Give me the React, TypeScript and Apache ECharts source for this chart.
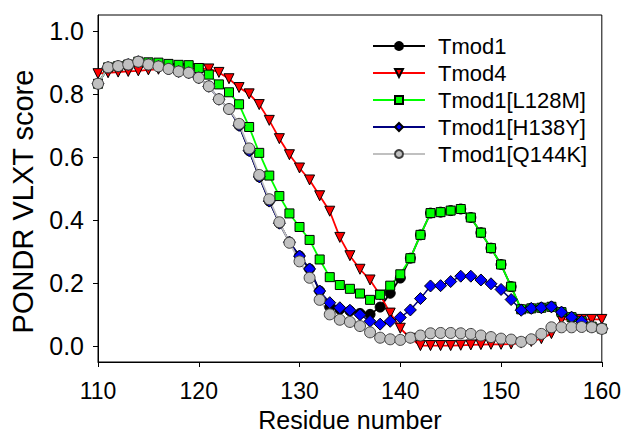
import React, { useEffect, useRef } from "react";
import * as echarts from "echarts";

const residues = [
  110, 111, 112, 113, 114, 115, 116, 117, 118, 119,
  120, 121, 122, 123, 124, 125, 126, 127, 128, 129,
  130, 131, 132, 133, 134, 135, 136, 137, 138, 139,
  140, 141, 142, 143, 144, 145, 146, 147, 148, 149,
  150, 151, 152, 153, 154, 155, 156, 157, 158, 159, 160,
];

const tmod1 = [
  0.832, 0.884, 0.888, 0.893, 0.902, 0.893, 0.887, 0.879, 0.871, 0.867,
  0.851, 0.824, 0.783, 0.752, 0.700, 0.620, 0.537, 0.460, 0.390, 0.330,
  0.286, 0.245, 0.175, 0.124, 0.117, 0.112, 0.104, 0.101, 0.124, 0.168,
  0.216, 0.279, 0.353, 0.422, 0.425, 0.430, 0.435, 0.408, 0.360, 0.311,
  0.259, 0.189, 0.117, 0.120, 0.122, 0.125, 0.108, 0.092, 0.079, 0.062, 0.056,
];

const tmod4 = [
  0.864, 0.867, 0.869, 0.871, 0.873, 0.876, 0.878, 0.879, 0.880, 0.880,
  0.880, 0.879, 0.868, 0.848, 0.820, 0.800, 0.766, 0.716, 0.658, 0.607,
  0.565, 0.527, 0.477, 0.428, 0.345, 0.287, 0.244, 0.210, 0.162, 0.105,
  0.057, 0.025, 0.002, 0.002, 0.002, 0.002, 0.003, 0.004, 0.005, 0.006,
  0.006, 0.007, 0.010, 0.015, 0.024, 0.040, 0.085, 0.085, 0.085, 0.085, 0.085,
];

const l128m = [
  0.832, 0.884, 0.888, 0.893, 0.902, 0.900, 0.899, 0.895, 0.892, 0.891,
  0.882, 0.861, 0.830, 0.805, 0.767, 0.695, 0.613, 0.541, 0.476, 0.421,
  0.378, 0.337, 0.275, 0.219, 0.194, 0.182, 0.167, 0.147, 0.163, 0.192,
  0.228, 0.279, 0.353, 0.422, 0.425, 0.430, 0.435, 0.408, 0.360, 0.311,
  0.259, 0.189, 0.117, 0.120, 0.122, 0.125, 0.108, 0.092, 0.079, 0.062, 0.056,
];

const h138y = [
  0.832, 0.884, 0.888, 0.893, 0.902, 0.893, 0.887, 0.879, 0.871, 0.867,
  0.851, 0.824, 0.783, 0.752, 0.700, 0.620, 0.537, 0.460, 0.390, 0.330,
  0.286, 0.245, 0.175, 0.138, 0.122, 0.114, 0.100, 0.079, 0.070, 0.079,
  0.091, 0.115, 0.151, 0.191, 0.192, 0.205, 0.222, 0.222, 0.210, 0.198,
  0.180, 0.148, 0.114, 0.120, 0.122, 0.125, 0.108, 0.092, 0.079, 0.062, 0.056,
];

const q144k = [
  0.832, 0.884, 0.888, 0.893, 0.902, 0.893, 0.887, 0.879, 0.871, 0.867,
  0.851, 0.824, 0.783, 0.752, 0.705, 0.627, 0.543, 0.466, 0.393, 0.328,
  0.269, 0.217, 0.147, 0.101, 0.084, 0.077, 0.064, 0.044, 0.027, 0.022,
  0.020, 0.027, 0.034, 0.041, 0.042, 0.042, 0.041, 0.039, 0.034, 0.029,
  0.024, 0.021, 0.014, 0.022, 0.039, 0.060, 0.060, 0.060, 0.061, 0.060, 0.055,
];

const yTicks = [0, 0.2, 0.4, 0.6, 0.8, 1.0];

const FONT = "'Liberation Sans', Arial, sans-serif";

function pairs(vals: number[]) {
  return residues.map((r, i) => [r, vals[i]]);
}

export default function App() {
  const ref = useRef<HTMLDivElement>(null);
  useEffect(() => {
    if (!ref.current) return;
    const chart = echarts.init(ref.current, undefined, { renderer: "svg" });
    const mk = (
      name: string,
      vals: number[],
      lineColor: string,
      fill: string,
      border: string,
      symbol: string,
      size: number,
      rotate = 0,
      lw = 1.8
    ) => ({
      name,
      type: "line",
      data: pairs(vals),
      symbol,
      symbolSize: size,
      symbolRotate: rotate,
      showAllSymbol: true,
      lineStyle: { color: lineColor, width: lw },
      itemStyle: { color: fill, borderColor: border, borderWidth: 1 },
      emphasis: { disabled: true },
    });
    chart.setOption({
      animation: false,
      backgroundColor: "#ffffff",
      grid: {
        left: 97,
        right: 21,
        top: 15,
        bottom: 68,
        show: true,
        borderColor: "#000",
        borderWidth: 1,
      },
      xAxis: {
        type: "value",
        min: 110,
        max: 160,
        interval: 10,
        name: "Residue number",
        nameLocation: "middle",
        nameGap: 45,
        nameTextStyle: { fontSize: 25, fontFamily: FONT, color: "#000" },
        axisLine: { onZero: false, lineStyle: { color: "#000", width: 1 } },
        axisTick: { show: true, length: 5, inside: false, lineStyle: { color: "#000" } },
        axisLabel: { fontSize: 23, fontFamily: FONT, color: "#000", margin: 17 },
        splitLine: { show: false },
      },
      yAxis: {
        type: "value",
        min: -0.05,
        max: 1.05,
        name: "PONDR VLXT score",
        nameLocation: "middle",
        nameGap: 61,
        nameTextStyle: {
          fontSize: 29,
          fontFamily: FONT,
          color: "#000",
          padding: [0, 26, 0, 0],
        },
        axisLine: { onZero: false, lineStyle: { color: "#000", width: 1 } },
        axisTick: {
          show: true,
          length: 5,
          inside: false,
          customValues: yTicks,
          lineStyle: { color: "#000" },
        },
        axisLabel: {
          fontSize: 25,
          fontFamily: FONT,
          color: "#000",
          margin: 14,
          customValues: yTicks,
          formatter: (v: number) => v.toFixed(1),
        },
        splitLine: { show: false },
      },
      legend: {
        orient: "vertical",
        left: 367,
        top: 30,
        itemWidth: 52,
        itemHeight: 10,
        itemGap: 5,
        textStyle: {
          fontSize: 22,
          fontFamily: FONT,
          color: "#000",
          lineHeight: 22,
          padding: [0, 0, 0, 8],
        },
        data: ["Tmod1", "Tmod4", "Tmod1[L128M]", "Tmod1[H138Y]", "Tmod1[Q144K]"],
      },
      series: [
        mk("Tmod1", tmod1, "#000000", "#000000", "#000000", "circle", 10),
        mk("Tmod4", tmod4, "#ff0000", "#ff0000", "#000000", "triangle", 10, 180),
        mk("Tmod1[L128M]", l128m, "#00ff00", "#00ff00", "#000000", "rect", 9),
        mk("Tmod1[H138Y]", h138y, "#000080", "#0000ff", "#000000", "diamond", 12, 0, 1.5),
        mk("Tmod1[Q144K]", q144k, "#c0c0c0", "#c0c0c0", "#404040", "circle", 11),
      ],
    });
    return () => chart.dispose();
  }, []);
  return (
    <div
      ref={ref}
      style={{ position: "absolute", left: 0, top: 0, width: 624, height: 437 }}
    />
  );
}
